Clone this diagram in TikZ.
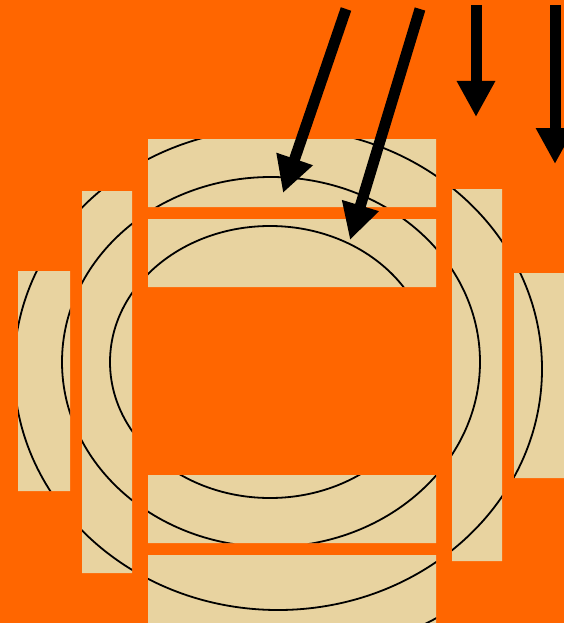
\documentclass[tikz,border=0pt]{standalone}
\usetikzlibrary{arrows.meta}
\definecolor{bgorange}{HTML}{FF6600}
\definecolor{papyrus}{HTML}{E8D3A0}
\begin{document}
\begin{tikzpicture}[x=1pt,y=-1pt,
  ring/.style={draw=black,line width=1.8pt},
  bigarrow/.style={line width=11pt,-{Triangle[length=36pt,width=36pt]}}]
\fill[bgorange] (0,0) rectangle (564,623);
\useasboundingbox (0,0) rectangle (564,623);
% papyrus panels
\def\panels{
  (148,139) rectangle (436,207)
  (148,219) rectangle (436,287)
  (148,475) rectangle (436,543)
  (148,555) rectangle (436,623)
  (18,271) rectangle (70,491)
  (82,191) rectangle (132,573)
  (452,189) rectangle (502,561)
  (514,273) rectangle (564,478)}
\fill[papyrus] \panels;
\begin{scope}
  \clip \panels;
  \draw[ring] (270,362) ellipse [x radius=160, y radius=136];
  \draw[ring] (271,362) ellipse [x radius=209, y radius=185];
  \draw[ring] (278,369) ellipse [x radius=264, y radius=241];
  \draw[ring] (278,369) ellipse [x radius=312, y radius=289];
\end{scope}
% arrows
\coordinate (a1s) at (346,9);   \coordinate (a1t) at (283,193);
\coordinate (a2s) at (420,9);   \coordinate (a2t) at (350,240);
\coordinate (a3s) at (476,5);   \coordinate (a3t) at (476,117);
\coordinate (a4s) at (555,5);   \coordinate (a4t) at (555,164);
\draw[bigarrow] (a1s) -- (a1t);
\draw[bigarrow] (a2s) -- (a2t);
\draw[bigarrow] (a3s) -- (a3t);
\draw[bigarrow] (a4s) -- (a4t);
\end{tikzpicture}
\end{document}
